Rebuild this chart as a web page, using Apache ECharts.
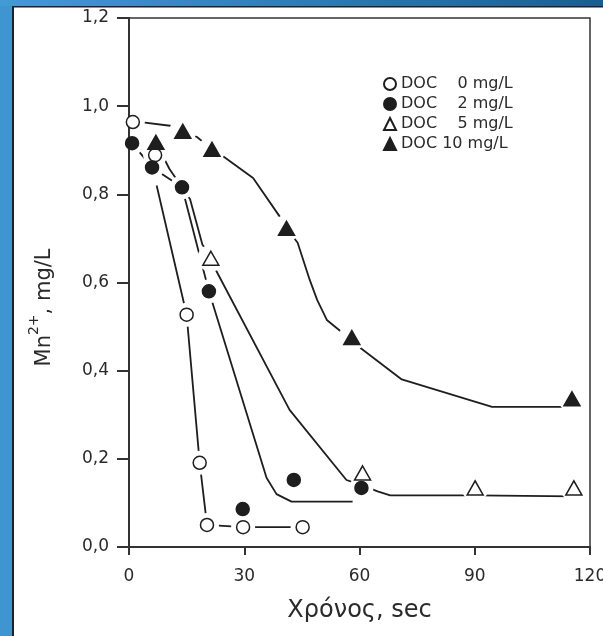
<!DOCTYPE html>
<html>
  <head>
    <meta charset="utf-8">
    <script src="https://cdn.jsdelivr.net/npm/echarts@6/dist/echarts.min.js"></script>
    <style>
      html, body { margin: 0; padding: 0; background: #fff; }
      #chart { width: 603px; height: 636px; }
    </style>
  </head>
  <body>
    <div id="chart"></div>
    <script>
      // measured points (time in sec, Mn2+ in mg/L)
      var doc0 = [[1.0, 0.964], [6.8, 0.889], [15.0, 0.527], [18.4, 0.191], [20.3, 0.050], [29.7, 0.045], [45.2, 0.045]];
      var doc2 = [[0.8, 0.916], [6.0, 0.861], [13.8, 0.816], [20.8, 0.580], [29.6, 0.086], [42.9, 0.152], [60.5, 0.134]];
      var doc5 = [[21.3, 0.655], [60.8, 0.168], [90.1, 0.134], [115.8, 0.134]];
      var doc10 = [[7.0, 0.918], [14.0, 0.943], [21.6, 0.902], [41.0, 0.723], [58.0, 0.475], [115.3, 0.336]];

      // hand drawn curves through the points
      var fit0 = [[7.2, 0.82], [15.0, 0.527], [18.4, 0.191], [20.3, 0.050], [29.7, 0.045], [45.2, 0.045]];
      var fit2 = [[0.8, 0.916], [6.0, 0.861], [13.8, 0.816], [20.8, 0.580], [35.8, 0.157], [38.4, 0.12], [42.3, 0.103], [58.2, 0.103]];
      var fit5 = [[7.0, 0.918], [10.5, 0.858], [15.9, 0.789], [19.1, 0.686], [21.6, 0.655], [22.5, 0.63], [41.8, 0.311], [56.6, 0.152], [60.8, 0.14], [64.7, 0.126], [68, 0.117], [90.1, 0.117], [115.8, 0.115]];
      var fit10 = [[1.0, 0.964], [3.1, 0.964], [11.2, 0.955], [14.0, 0.943], [17.7, 0.93], [21.6, 0.902], [24.4, 0.887], [32.3, 0.837], [39.2, 0.75], [41.0, 0.723], [43.9, 0.69], [47, 0.607], [49, 0.56], [51.5, 0.515], [55, 0.49], [58, 0.475], [60, 0.453], [71, 0.38], [94.5, 0.318], [115.3, 0.318]];

      var names = ['DOC \u2007 0 mg/L', 'DOC \u2007 2 mg/L', 'DOC \u2007 5 mg/L', 'DOC 10 mg/L'];
      var xTitle = 'Χρόνος, sec';

      var ink = '#1e1e1e';
      var text = '#2a2a2a';
      var font = 'DejaVu Sans';

      var marks = [
        { name: names[0], data: doc0, symbol: 'circle', size: 13, fill: '#fff' },
        { name: names[1], data: doc2, symbol: 'circle', size: 13, fill: ink },
        { name: names[2], data: doc5, symbol: 'triangle', size: [16, 14], fill: '#fff' },
        { name: names[3], data: doc10, symbol: 'triangle', size: [16, 14], fill: ink }
      ];

      var series = [];
      [fit0, fit2, fit5, fit10].forEach(function (f) {
        series.push({
          type: 'line', data: f, symbol: 'none', silent: true, z: 2,
          lineStyle: { color: ink, width: 1.8 }
        });
      });
      // white halos open gaps in the curves round each point
      marks.forEach(function (m) {
        var s = (Array.isArray(m.size) ? m.size[0] : m.size) + 11;
        series.push({
          type: 'scatter', data: m.data, symbol: 'circle', symbolSize: s, silent: true, z: 3,
          itemStyle: { color: '#fff', opacity: 1 }
        });
      });
      marks.forEach(function (m) {
        series.push({
          type: 'scatter', name: m.name, data: m.data, symbol: m.symbol, symbolSize: m.size, z: 5,
          itemStyle: { color: m.fill, borderColor: ink, borderWidth: 1.5, opacity: 1 }
        });
      });

      var chart = echarts.init(document.getElementById('chart'));
      chart.setOption({
        animation: false,
        backgroundColor: '#fff',
        graphic: [
          { type: 'rect', z: 100, shape: { x: 0, y: 0, width: 12, height: 636 }, style: { fill: '#3e95d0' } },
          { type: 'rect', z: 100, shape: { x: 0, y: 0, width: 603, height: 6 },
            style: { fill: new echarts.graphic.LinearGradient(0, 0, 1, 0, [
              { offset: 0, color: '#439bd4' }, { offset: 1, color: '#1d5d8e' }]) } },
          { type: 'rect', z: 100, shape: { x: 12, y: 6, width: 2, height: 630 }, style: { fill: '#142433' } },
          { type: 'rect', z: 100, shape: { x: 12, y: 6, width: 591, height: 1.5 }, style: { fill: '#142433' } }
        ],
        grid: {
          left: 129, right: 13, top: 18, bottom: 89,
          outerBoundsMode: 'none',
          show: true, borderColor: '#333', borderWidth: 1.5
        },
        legend: {
          orient: 'vertical', left: 378, top: 71,
          itemWidth: 12, itemHeight: 12, itemGap: 4,
          data: names,
          textStyle: { fontFamily: font, fontSize: 16, color: text }
        },
        xAxis: {
          type: 'value', min: 0, max: 120, interval: 30, z: 4,
          name: xTitle, nameLocation: 'middle', nameGap: 52,
          nameTextStyle: { fontFamily: font, fontSize: 24, color: text },
          axisLine: { lineStyle: { color: '#333', width: 2 } },
          axisTick: { length: 8, lineStyle: { color: '#333', width: 2 } },
          axisLabel: { margin: 21, fontFamily: font, fontSize: 17, color: text },
          splitLine: { show: false }
        },
        yAxis: {
          type: 'value', min: 0, max: 1.2, interval: 0.2, z: 4,
          name: '{a|Mn}{b|2+}{a|, mg/L}', nameLocation: 'middle', nameGap: 74,
          nameTextStyle: {
            padding: [0, 50, 0, 0],
            rich: {
              a: { fontFamily: font, fontSize: 21, color: text, lineHeight: 28, verticalAlign: 'bottom' },
              b: { fontFamily: font, fontSize: 14, color: text, lineHeight: 28, verticalAlign: 'top' }
            }
          },
          axisLine: { show: true, lineStyle: { color: '#333', width: 2 } },
          axisTick: { show: true, length: 12, lineStyle: { color: '#333', width: 2 } },
          axisLabel: {
            margin: 20, fontFamily: font, fontSize: 17, color: text,
            formatter: function (v) { return v.toFixed(1).replace('.', ','); }
          },
          splitLine: { show: false }
        },
        series: series
      });
    </script>
  </body>
</html>
